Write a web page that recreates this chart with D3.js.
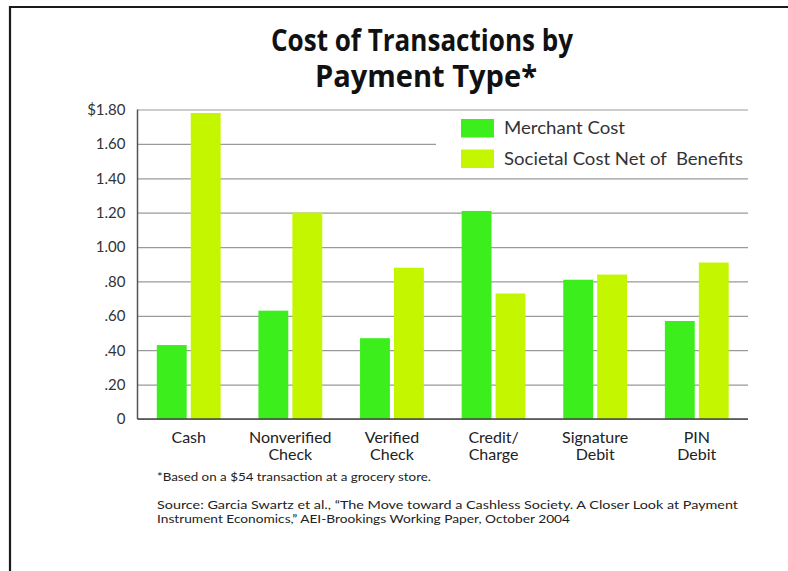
<!DOCTYPE html>
<html>
<head>
<meta charset="utf-8">
<script src="https://cdn.jsdelivr.net/npm/d3@7"></script>
<style>
  body { margin: 0; background: #fff; }
  svg { display: block; font-family: Lato, "Open Sans", sans-serif; }
</style>
</head>
<body>
<div class="chart"></div>
<script>
// cost per transaction, dollars
const categories = ["Cash", "Nonverified Check", "Verified Check", "Credit/ Charge", "Signature Debit", "PIN Debit"];
const categoryLines = [["Cash"], ["Nonverified", "Check"], ["Verified", "Check"], ["Credit/", "Charge"], ["Signature", "Debit"], ["PIN", "Debit"]];
const seriesNames = ["Merchant Cost", "Societal Cost Net of  Benefits"];
const merchantCost = [0.43, 0.63, 0.47, 1.21, 0.81, 0.57];
const societalCost = [1.78, 1.20, 0.88, 0.73, 0.84, 0.91];
const tickValues = [0, 0.2, 0.4, 0.6, 0.8, 1.0, 1.2, 1.4, 1.6, 1.8];
const tickLabels = ["0", ".20", ".40", ".60", ".80", "1.00", "1.20", "1.40", "1.60", "$1.80"];
const colors = ["#3cef1c", "#c4f600"];

const width = 788, height = 571;
const margin = {top: 109.5, right: 40, bottom: 152, left: 137.5};
const gridRight = 748;

const svg = d3.select(".chart").append("svg")
  .attr("width", width).attr("height", height);

// frame
svg.append("path")
  .attr("d", `M10,${height + 5} L10,7 L${width + 5},7`)
  .attr("fill", "none").attr("stroke", "#1a1a1a").attr("stroke-width", 2.2);

// title
const title = svg.append("text").attr("text-anchor", "middle")
  .style("font-family", "'Open Sans', sans-serif").style("font-weight", 700)
  .style("font-size", "30px").attr("fill", "#111");
title.append("tspan").attr("x", 422).attr("y", 51).text("Cost of Transactions by")
  .attr("textLength", 302).attr("lengthAdjust", "spacingAndGlyphs");
title.append("tspan").attr("x", 426).attr("y", 87).text("Payment Type*")
  .attr("textLength", 222).attr("lengthAdjust", "spacingAndGlyphs");

const x0 = d3.scaleBand().domain(categories)
  .range([margin.left, gridRight])
  .paddingInner(0.372).paddingOuter(0.19);
const x1 = d3.scaleBand().domain(seriesNames)
  .range([0, x0.bandwidth()]).paddingInner(0.12);
const y = d3.scaleLinear().domain([0, 1.8]).range([height - margin.bottom, margin.top]);

// grid
const yAxis = d3.axisLeft(y).tickValues(tickValues)
  .tickFormat((d, i) => tickLabels[i])
  .tickSize(-(gridRight - margin.left)).tickPadding(12);
const yAxisDraw = svg.append("g").attr("class", "y axis")
  .attr("transform", `translate(${margin.left},0)`).call(yAxis);
yAxisDraw.select(".domain").remove();
yAxisDraw.selectAll(".tick line").attr("stroke", "#9a9a9a").attr("stroke-width", 1.2);
yAxisDraw.selectAll(".tick text").attr("fill", "#333")
  .style("font-size", "15px").style("font-family", "Lato, 'Open Sans', sans-serif");

// legend box covers grid
const legend = svg.append("g").attr("class", "legend");
legend.append("rect").attr("x", 436).attr("y", y(1.8) + 1.5)
  .attr("width", 330).attr("height", y(1.4) - y(1.8) - 3).attr("fill", "#fff");
const legendLengths = [121, 239];
seriesNames.forEach((s, i) => {
  const g = legend.append("g").attr("transform", `translate(461,${119 + i * 30.5})`);
  g.append("rect").attr("width", 33).attr("height", 18.5).attr("fill", colors[i]);
  g.append("text").attr("x", 43).attr("y", 15).text(s)
    .attr("fill", "#333").style("font-size", "17px").style("white-space", "pre")
    .attr("textLength", legendLengths[i]).attr("lengthAdjust", "spacingAndGlyphs");
});

// bars
const rows = categories.map((c, i) => ({cat: c, values: [merchantCost[i], societalCost[i]]}));
const groups = svg.append("g").attr("class", "bars").selectAll("g")
  .data(rows).join("g")
  .attr("transform", d => `translate(${x0(d.cat)},0)`);
groups.selectAll("rect")
  .data(d => d.values.map((v, i) => ({name: seriesNames[i], value: v, i})))
  .join("rect")
  .attr("x", d => x1(d.name))
  .attr("y", d => y(d.value))
  .attr("width", x1.bandwidth())
  .attr("height", d => y(0) - y(d.value))
  .attr("fill", d => colors[d.i]);

// axes lines
svg.append("line").attr("x1", margin.left).attr("x2", margin.left)
  .attr("y1", y(1.8)).attr("y2", y(0)).attr("stroke", "#555").attr("stroke-width", 1.5);
svg.append("line").attr("x1", margin.left).attr("x2", gridRight)
  .attr("y1", y(0)).attr("y2", y(0)).attr("stroke", "#444").attr("stroke-width", 1.5);

// category labels
const xLabels = svg.append("g").attr("class", "x labels");
categories.forEach((c, i) => {
  const t = xLabels.append("text").attr("text-anchor", "middle")
    .attr("fill", "#222").style("font-size", "16px");
  categoryLines[i].forEach((line, j) => {
    t.append("tspan").attr("x", x0(c) + x0.bandwidth() / 2)
      .attr("y", 443 + j * 17).text(line);
  });
});

// notes
const notes = svg.append("g").attr("fill", "#222").style("font-size", "11.5px");
notes.append("text").attr("x", 157).attr("y", 481)
  .text("*Based on a $54 transaction at a grocery store.")
  .attr("textLength", 274).attr("lengthAdjust", "spacingAndGlyphs");
notes.append("text").attr("x", 157).attr("y", 509)
  .text("Source: Garcia Swartz et al., \u201cThe Move toward a Cashless Society. A Closer Look at Payment")
  .attr("textLength", 581).attr("lengthAdjust", "spacingAndGlyphs");
notes.append("text").attr("x", 157).attr("y", 523)
  .text("Instrument Economics,\u201d AEI-Brookings Working Paper, October 2004")
  .attr("textLength", 413).attr("lengthAdjust", "spacingAndGlyphs");
</script>
</body>
</html>
